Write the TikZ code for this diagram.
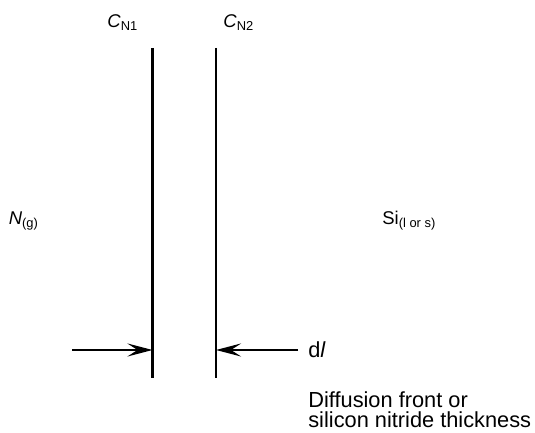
\documentclass[tikz,border=0pt]{standalone}
\usepackage{fontspec}
\setmainfont{Liberation Sans}
\usetikzlibrary{arrows.meta,positioning}

\begin{document}
\begin{tikzpicture}[
    front/.style={black, line width=1.5pt},
    push/.style={black, line width=1.6pt, -{Stealth[length=5mm,width=2.6mm,inset=2mm]}},
    lbl/.style={font=\fontsize{10.5}{12}\selectfont, inner sep=0pt},
    txt/.style={font=\fontsize{12.4}{11.4}\selectfont, inner sep=0pt}
  ]
  \useasboundingbox (0,0) rectangle (10.7,8.66);

  % Grenzen der Nitridschicht
  \coordinate (t1) at (3.05,7.70);
  \coordinate (b1) at (3.05,1.10);
  \coordinate (t2) at (4.32,7.70);
  \coordinate (b2) at (4.32,1.10);
  \draw[front] (t1) -- (b1);
  \draw[front] (t2) -- (b2);

  % Konzentrationen
  \node[lbl, anchor=base west] (cn1) at (2.14,8.10) {\textit{C}\textsubscript{N1}};
  \node[lbl, anchor=base west] (cn2) at (4.46,8.10) {\textit{C}\textsubscript{N2}};

  % Phasen
  \node[lbl, anchor=base west] (gas) at (0.17,4.17) {\textit{N}\textsubscript{(g)}};
  \node[lbl, anchor=base west] (si) at (7.64,4.17) {Si\textsubscript{(l or s)}};

  % Dicke
  \coordinate (la) at (1.44,1.66);
  \coordinate (f1) at (3.05,1.66);
  \coordinate (ra) at (5.96,1.66);
  \coordinate (f2) at (4.32,1.66);
  \draw[push] (la) -- (f1);
  \draw[push] (ra) -- (f2);
  \node[txt, anchor=base west] (dl) at (6.16,1.50) {d\textit{l}};

  \node[txt, anchor=north west, align=left] (note) at (6.16,0.83)
    {Diffusion front or\\silicon nitride thickness};
\end{tikzpicture}
\end{document}
